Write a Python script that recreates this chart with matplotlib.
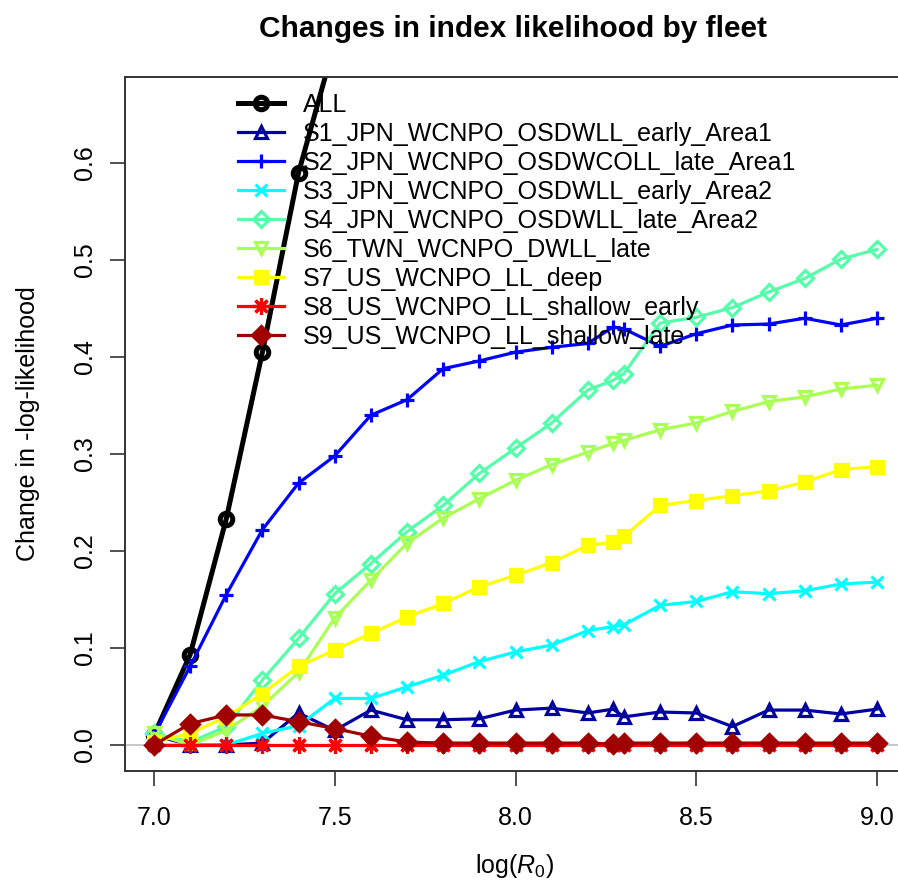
"""Change in index likelihood by fleet across a log(R0) profile."""
import matplotlib
matplotlib.use("Agg")
import matplotlib.pyplot as plt  # noqa: E402

plt.rcParams["font.family"] = ["Liberation Sans", "DejaVu Sans"]
plt.rcParams["mathtext.fontset"] = "custom"
plt.rcParams["mathtext.rm"] = "Liberation Sans"
plt.rcParams["mathtext.it"] = "Liberation Sans:italic"

# profile grid of log(R0), including the base-case value
log_r0 = [7.0, 7.1, 7.2, 7.3, 7.4, 7.5, 7.6, 7.7, 7.8, 7.9, 8.0,
          8.1, 8.2, 8.27, 8.3, 8.4, 8.5, 8.6, 8.7, 8.8, 8.9, 9.0]

# ALL runs off the top of the panel after 7.5
all_fleets = [0.010, 0.093, 0.233, 0.405, 0.590, 0.724]
s1 = [0.010, 0.000, 0.000, 0.002, 0.033, 0.015, 0.036, 0.026, 0.026, 0.027, 0.036,
      0.038, 0.033, 0.037, 0.029, 0.034, 0.033, 0.019, 0.036, 0.036, 0.032, 0.037]
s2 = [0.010, 0.081, 0.155, 0.222, 0.270, 0.298, 0.340, 0.356, 0.388, 0.396, 0.405,
      0.410, 0.414, 0.431, 0.429, 0.411, 0.424, 0.433, 0.434, 0.440, 0.433, 0.440]
s3 = [0.000, 0.000, 0.000, 0.012, 0.020, 0.048, 0.048, 0.060, 0.072, 0.086, 0.096,
      0.103, 0.118, 0.122, 0.124, 0.144, 0.148, 0.158, 0.156, 0.159, 0.166, 0.168]
s4 = [0.012, 0.003, 0.019, 0.067, 0.110, 0.156, 0.187, 0.220, 0.247, 0.280, 0.306,
      0.332, 0.366, 0.376, 0.383, 0.435, 0.441, 0.451, 0.467, 0.481, 0.501, 0.511]
s6 = [0.012, 0.000, 0.015, 0.040, 0.075, 0.131, 0.170, 0.208, 0.234, 0.254, 0.273,
      0.289, 0.302, 0.311, 0.314, 0.325, 0.332, 0.344, 0.354, 0.359, 0.367, 0.371]
s7 = [0.003, 0.012, 0.029, 0.053, 0.081, 0.098, 0.115, 0.132, 0.146, 0.163, 0.175,
      0.188, 0.206, 0.209, 0.215, 0.247, 0.252, 0.257, 0.262, 0.271, 0.284, 0.287]
s8 = [0.000] * 22
s9 = [0.000, 0.022, 0.031, 0.031, 0.024, 0.017, 0.009, 0.003, 0.002, 0.002, 0.002,
      0.002, 0.002, 0.001, 0.002, 0.002, 0.002, 0.002, 0.002, 0.002, 0.002, 0.002]

labels = ["ALL",
          "S1_JPN_WCNPO_OSDWLL_early_Area1",
          "S2_JPN_WCNPO_OSDWCOLL_late_Area1",
          "S3_JPN_WCNPO_OSDWLL_early_Area2",
          "S4_JPN_WCNPO_OSDWLL_late_Area2",
          "S6_TWN_WCNPO_DWLL_late",
          "S7_US_WCNPO_LL_deep",
          "S8_US_WCNPO_LL_shallow_early",
          "S9_US_WCNPO_LL_shallow_late"]
series = [all_fleets, s1, s2, s3, s4, s6, s7, s8, s9]
colors = ["black", "#0000A0", "#0000FF", "#00FFFF", "#55FFAA",
          "#AAFF55", "#FFFF00", "#FF0000", "#A00000"]
# (marker, size, filled) roughly following R pch 1,2,3,4,5,6,15,8,18
markers = [("o", 9, False), ("^", 8.5, False), ("+", 10.5, False), ("x", 9, False),
           ("D", 8, False), ("v", 8.5, False), ("s", 8.5, True), ((8, 2, 0), 12, False),
           ("D", 9.5, True)]

W, H = 898, 886
fig = plt.figure(figsize=(W / 100, H / 100), dpi=100)
ax = fig.add_axes([125 / W, (H - 770.7) / H, (906 - 125) / W, (770.7 - 76.7) / H])

ax.axhline(0, color="#BEBEBE", lw=1.2, zorder=1)

handles = []
for vals, lab, col, (mk, ms, filled) in zip(series, labels, colors, markers):
    lw = 3.6 if lab == "ALL" else 2.3
    h, = ax.plot(log_r0[:len(vals)], vals, color=col, lw=lw, marker=mk, ms=ms,
                 mew=lw, mfc=col if filled else "none", mec=col, label=lab,
                 zorder=2, clip_on=True)
    handles.append(h)

ax.set_xlim(6.92, 9.08)
ax.set_ylim(-0.0265, 0.689)
ax.set_xticks([7.0, 7.5, 8.0, 8.5, 9.0])
ax.set_xticklabels(["7.0", "7.5", "8.0", "8.5", "9.0"])
ax.set_yticks([0.0, 0.1, 0.2, 0.3, 0.4, 0.5, 0.6])
ax.set_yticklabels(["0.0", "0.1", "0.2", "0.3", "0.4", "0.5", "0.6"],
                   rotation=90, va="center")
ax.tick_params(axis="both", direction="out", length=11, width=1.2,
               color="#333333", labelsize=18)
ax.tick_params(axis="x", pad=14.5)
ax.tick_params(axis="y", pad=9)
for sp in ax.spines.values():
    sp.set_color("#333333")
    sp.set_linewidth(1.4)

ax.legend(handles=handles, loc="upper left",
          bbox_to_anchor=(238 / W, (H - 93) / H), bbox_transform=fig.transFigure,
          frameon=False, fontsize=18, borderpad=0, borderaxespad=0,
          handlelength=1.84, handletextpad=0.76, labelspacing=0.2, numpoints=1)

fig.text(513 / W, 1 - 37 / H, "Changes in index likelihood by fleet",
         ha="center", va="baseline", fontsize=21.5, fontweight="bold")
fig.text(515 / W, 1 - 873 / H, r"log($R_0$)", ha="center", va="baseline", fontsize=18)
fig.text(40 / W, 1 - 424 / H, "Change in -log-likelihood", rotation=90,
         ha="right", va="center", fontsize=18)

fig.savefig("out.png", dpi=100)
plt.close(fig)
